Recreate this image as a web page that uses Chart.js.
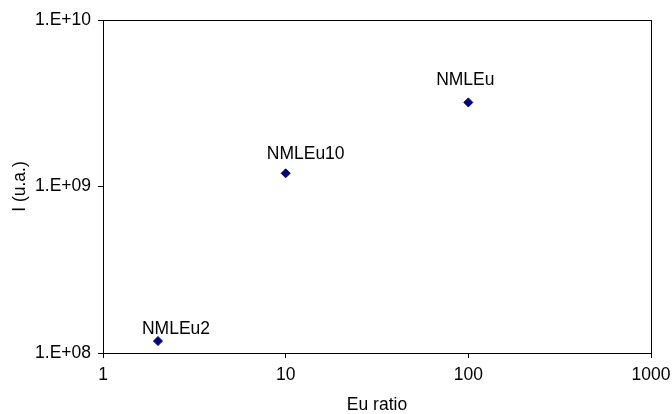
<!DOCTYPE html>
<html>
<head>
<meta charset="utf-8">
<script src="https://cdn.jsdelivr.net/npm/chart.js@4.4.0/dist/chart.umd.min.js"></script>
<style>
  html, body { margin: 0; padding: 0; background: #fff; }
  #wrap { width: 672px; height: 414px; }
</style>
</head>
<body>
<div id="wrap"><canvas id="c" width="672" height="414"></canvas></div>
<script>
// Samples: Eu ratio vs intensity
const sampleNames = ['NMLEu2', 'NMLEu10', 'NMLEu'];
const euRatio = [2, 10, 100];
const intensity = [1.18e8, 1.2e9, 3.2e9];

// Axis tick values
const xTicks = [1, 10, 100, 1000];
const yTicks = [1e8, 1e9, 1e10];

// Label placement relative to each point (dx, dy in px)
const labelShift = [[18, 7], [20, 14], [-3, 17]];

const FONT = "'Liberation Sans', Arial, sans-serif";
const FSIZE = 17.5;

function sci(v) {
  const e = Math.round(Math.log10(v));
  const m = v / Math.pow(10, e);
  return m.toFixed(0) + '.E' + (e >= 0 ? '+' : '-') + String(Math.abs(e)).padStart(2, '0');
}

const frame = {
  id: 'frame',
  afterDraw(chart) {
    const a = chart.chartArea, ctx = chart.ctx;
    ctx.save();
    ctx.strokeStyle = '#000';
    ctx.lineWidth = 1;
    ctx.strokeRect(Math.round(a.left) + 0.5, Math.round(a.top) + 0.5,
                   Math.round(a.right - a.left), Math.round(a.bottom - a.top));
    ctx.restore();
  }
};

const pointLabels = {
  id: 'pointLabels',
  afterDatasetsDraw(chart) {
    const ctx = chart.ctx;
    const meta = chart.getDatasetMeta(0);
    ctx.save();
    ctx.font = FSIZE + 'px ' + FONT;
    ctx.fillStyle = '#000';
    ctx.textAlign = 'center';
    ctx.textBaseline = 'alphabetic';
    meta.data.forEach((pt, i) => {
      const s = labelShift[i];
      ctx.fillText(sampleNames[i], pt.x + s[0], pt.y - s[1]);
    });
    ctx.restore();
  }
};

new Chart(document.getElementById('c'), {
  type: 'scatter',
  data: {
    datasets: [{
      data: euRatio.map((x, i) => ({ x: x, y: intensity[i] })),
      pointStyle: 'rectRot',
      pointRadius: 4.5,
      pointHoverRadius: 4.5,
      backgroundColor: '#000080',
      borderColor: '#000080',
      borderWidth: 1
    }]
  },
  options: {
    responsive: false,
    animation: false,
    devicePixelRatio: 1,
    layout: { padding: { top: 20, right: 21, left: 0, bottom: 0 } },
    plugins: { legend: { display: false }, tooltip: { enabled: false } },
    scales: {
      x: {
        type: 'logarithmic',
        min: 1, max: 1000,
        afterBuildTicks(s) { s.ticks = xTicks.map(v => ({ value: v })); },
        afterFit(s) { s.height = 61; s.paddingLeft = 0; s.paddingRight = 0; },
        ticks: {
          color: '#000', font: { family: FONT, size: FSIZE }, padding: 7,
          maxRotation: 0, autoSkip: false,
          callback: v => String(v)
        },
        grid: { drawOnChartArea: false, drawTicks: true, tickLength: 5, color: '#000', lineWidth: 1 },
        border: { display: true, color: '#000', width: 1 },
        title: { display: true, text: 'Eu ratio', color: '#000', font: { family: FONT, size: FSIZE, lineHeight: 1 }, padding: { top: 0, bottom: 0 } }
      },
      y: {
        type: 'logarithmic',
        min: 1e8, max: 1e10,
        afterBuildTicks(s) { s.ticks = yTicks.map(v => ({ value: v })); },
        afterFit(s) { s.width = 103; s.paddingTop = 0; s.paddingBottom = 0; },
        ticks: {
          color: '#000', font: { family: FONT, size: FSIZE }, padding: 7,
          autoSkip: false,
          callback: v => sci(v)
        },
        grid: { drawOnChartArea: false, drawTicks: true, tickLength: 5, color: '#000', lineWidth: 1 },
        border: { display: true, color: '#000', width: 1 },
        title: { display: true, text: 'I (u.a.)', color: '#000', font: { family: FONT, size: FSIZE }, padding: { top: 10, bottom: 0 } }
      }
    }
  },
  plugins: [frame, pointLabels]
});
</script>
</body>
</html>
